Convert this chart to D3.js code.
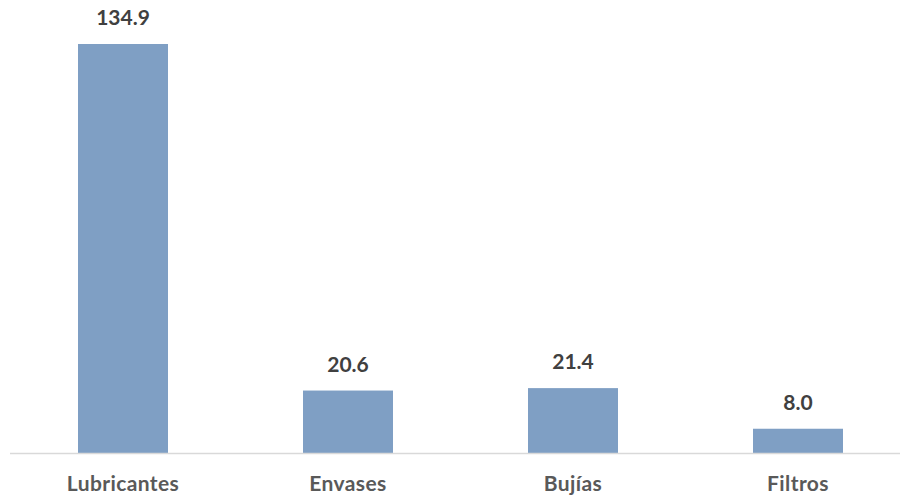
<!DOCTYPE html>
<html><head><meta charset="utf-8">
<script src="https://cdn.jsdelivr.net/npm/d3@7"></script>
<style>body{margin:0;background:#fff}svg{display:block}</style>
</head><body>
<script>
const categories = ["Lubricantes", "Envases", "Bujías", "Filtros"];
const values = [134.9, 20.6, 21.4, 8.0];

const W = 900, H = 495;
const svg = d3.select("body").append("svg").attr("width", W).attr("height", H);
const baseY = 453;
const x = d3.scaleBand().domain(categories).range([10.5, 910.5]).paddingInner(0.6).paddingOuter(0.3);
const y = d3.scaleLinear().domain([0, 134.9]).range([baseY, 44]);

svg.selectAll("rect.bar").data(values).enter().append("rect")
  .attr("class", "bar")
  .attr("x", (d, i) => x(categories[i]))
  .attr("width", x.bandwidth())
  .attr("y", d => y(d))
  .attr("height", d => baseY - y(d))
  .attr("fill", "#7f9fc4");

svg.append("line").attr("x1", 10).attr("x2", 900).attr("y1", baseY + 0.5).attr("y2", baseY + 0.5)
  .attr("stroke", "#d9d9d9").attr("stroke-width", 1.5);

svg.selectAll("text.val").data(values).enter().append("text")
  .attr("class", "val")
  .attr("x", (d, i) => x(categories[i]) + x.bandwidth() / 2)
  .attr("y", d => y(d) - 19)
  .attr("text-anchor", "middle")
  .attr("font-family", "Lato, sans-serif").attr("font-weight", "bold").attr("font-size", 21)
  .attr("fill", "#404040")
  .text(d => d.toFixed(1));

svg.selectAll("text.cat").data(categories).enter().append("text")
  .attr("class", "cat")
  .attr("x", d => x(d) + x.bandwidth() / 2)
  .attr("y", 491)
  .attr("text-anchor", "middle")
  .attr("font-family", "Lato, sans-serif").attr("font-weight", "bold").attr("font-size", 21)
  .attr("letter-spacing", 0.4)
  .attr("fill", "#595959")
  .text(d => d);
</script>
</body></html>
